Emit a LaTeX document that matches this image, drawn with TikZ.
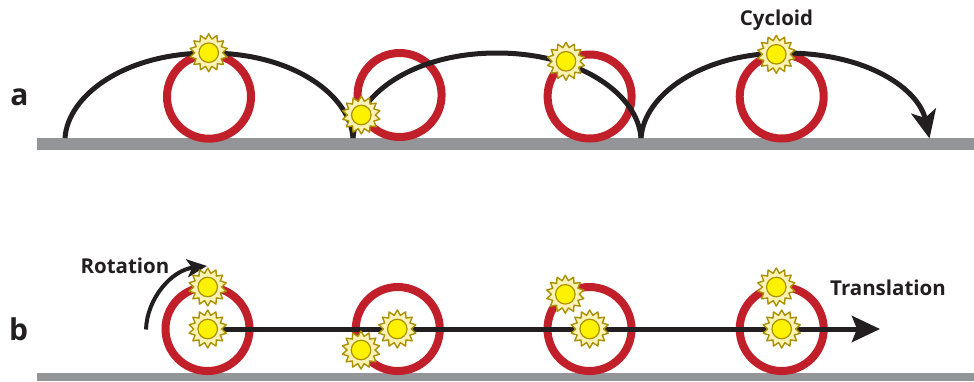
\documentclass[tikz,border=0pt]{standalone}
\usepackage{fontspec}
\setmainfont{Open Sans}
\usetikzlibrary{arrows.meta,shapes.geometric}
\definecolor{groundgray}{HTML}{939598}
\definecolor{wheelred}{HTML}{C1202A}
\definecolor{inkblack}{HTML}{231F20}
\definecolor{sunedge}{HTML}{AC9000}
\definecolor{sunpale}{HTML}{FBF3B5}
\definecolor{sunyellow}{HTML}{FFF200}
\tikzset{
  ground/.style={fill=groundgray,draw=none},
  wheel/.style={circle,draw=wheelred,line width=8pt,minimum size=84pt,inner sep=0pt,outer sep=0pt},
  path line/.style={draw=inkblack,line width=5pt},
  sunrays/.style={star,star points=14,star point ratio=1.36,draw=sunedge,fill=sunpale,line width=1.4pt,line join=round,minimum size=38pt,inner sep=0pt,outer sep=0pt},
  suncore/.style={circle,draw=sunedge,fill=sunyellow,line width=1.2pt,minimum size=19.5pt,inner sep=0pt,outer sep=0pt},
  label text/.style={text=inkblack,font=\fontsize{20.5}{23}\selectfont\bfseries,inner sep=0pt},
  panel text/.style={text=inkblack,font=\fontsize{30}{33}\selectfont\bfseries,inner sep=0pt}
}
\newcommand{\sunat}[2]{\node[sunrays] (#1r) at (#2) {};\node[suncore] (#1) at (#2) {};}
\begin{document}
\begin{tikzpicture}[x=1pt,y=-1pt]
\useasboundingbox (0,0) rectangle (974,381);
\fill[ground] (37,137.7) rectangle (974,149.7);
\fill[ground] (37,373.3) rectangle (974,381);
% wheels
\node[wheel] (wa1) at (209,96.7) {};
\node[wheel] (wa2) at (399.6,95) {};
\node[wheel] (wa3) at (589.6,96.5) {};
\node[wheel] (wa4) at (781.7,96.5) {};
\node[wheel] (wb1) at (207.5,329) {};
\node[wheel] (wb2) at (397.8,329) {};
\node[wheel] (wb3) at (589.5,329) {};
\node[wheel] (wb4) at (781.7,329) {};
% cycloid
\coordinate (c0) at (65,138);
\coordinate (p1) at (209,53);
\coordinate (c1) at (353,138);
\coordinate (p2) at (497,53);
\coordinate (c2) at (641,138);
\coordinate (p3) at (785,53);
\coordinate (c3) at (929.5,138.5);
\draw[path line] (c0) .. controls (68,95) and (125,53) .. (p1)
  .. controls (293,53) and (350,95) .. (c1);
\draw[path line] (c1) .. controls (356,95) and (413,53) .. (p2)
  .. controls (581,53) and (638,95) .. (c2);
\draw[path line,-{Stealth[length=28pt,width=25pt,inset=7pt]}] (c2) .. controls (644,95) and (701,53) .. (p3)
  .. controls (869,53) and (919,90) .. (c3);
% translation
\coordinate (tb0) at (208,329);
\coordinate (tb1) at (880,329);
\draw[path line,-{Stealth[length=28pt,width=26pt,inset=5pt]}] (tb0) -- (tb1);
% rotation
\coordinate (r0) at (146,329.5);
\coordinate (r1) at (207,266);
\draw[draw=inkblack,line width=4pt,-{Stealth[length=20pt,width=18pt,inset=5pt]}] (r0) .. controls (147,298) and (172,270) .. (r1);
% suns
\sunat{sa1}{208.7,52.7}
\sunat{sa2}{361.3,115}
\sunat{sa3}{566,61.3}
\sunat{sa4}{776.3,54.3}
\sunat{sb1}{207.7,287}
\sunat{sb2}{361,350}
\sunat{sb3}{565.3,294.3}
\sunat{sb4}{776.3,287}
\sunat{sc1}{207.7,329}
\sunat{sc2}{397.3,329}
\sunat{sc3}{589.7,329}
\sunat{sc4}{781.7,329}
% labels
\node[panel text] (la) at (19.5,97) {a};
\node[panel text] (lb) at (18.5,329) {b};
\node[label text] (cy) at (776.5,20.5) {Cycloid};
\node[label text] (ro) at (125,265.5) {Rotation};
\node[label text] (tr) at (888,288) {Translation};
\end{tikzpicture}
\end{document}
